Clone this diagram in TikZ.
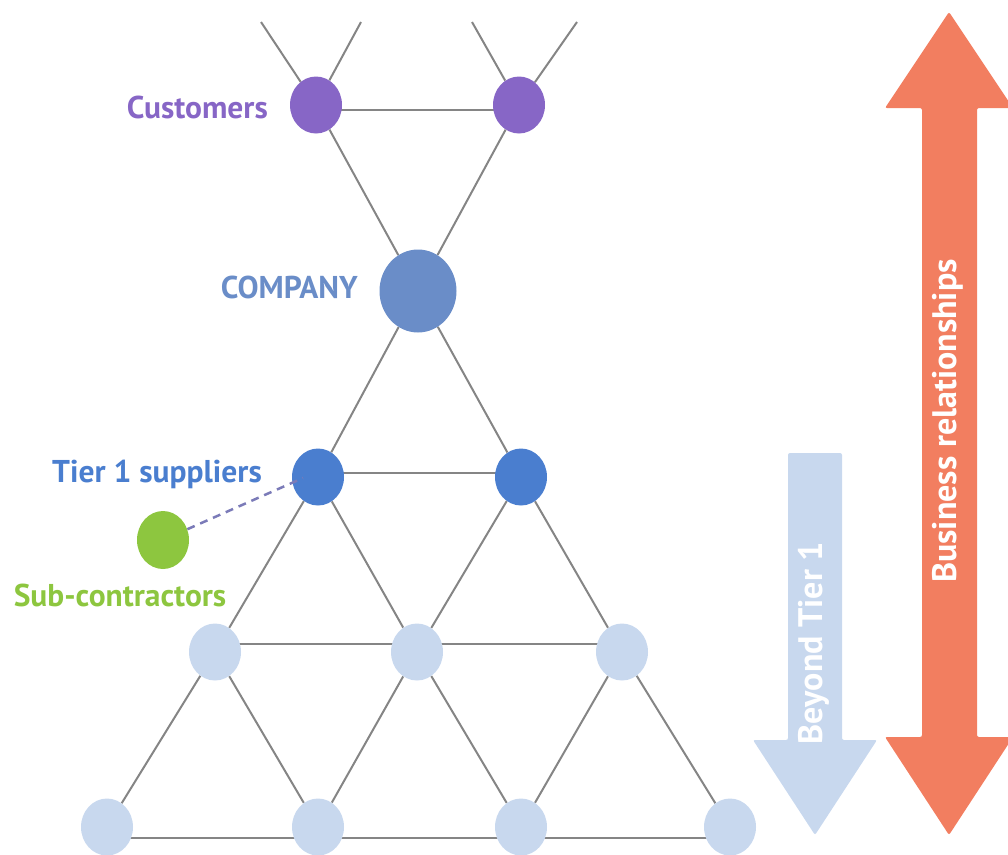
\documentclass[tikz,border=0pt]{standalone}
\usepackage{fontspec}
\setmainfont{PT Sans}
\usetikzlibrary{shapes.geometric,backgrounds}
\definecolor{custcol}{HTML}{8766C6}
\definecolor{compcol}{HTML}{6A8DC8}
\definecolor{tiercol}{HTML}{4A7ECF}
\definecolor{beyondcol}{HTML}{C8D8EE}
\definecolor{subcol}{HTML}{8DC63F}
\definecolor{bizcol}{HTML}{F27E60}
\definecolor{linkcol}{HTML}{858585}
\definecolor{dashcol}{HTML}{7B7BB8}
\tikzset{
  dot/.style={ellipse,inner sep=0pt,minimum width=52pt,minimum height=57pt},
  link/.style={linkcol,line width=2pt},
  lbl/.style={font=\bfseries\fontsize{31.5}{31.5}\selectfont,inner sep=0pt},
  arrowlbl/.style={font=\bfseries\fontsize{34}{34}\selectfont,inner sep=0pt,white,rotate=90},
}
\begin{document}
\begin{tikzpicture}[x=1pt,y=-1pt]
\useasboundingbox (0,0) rectangle (1008,854);

    \def\bizarrow{(949,12) -- (1013,108) -- (977,108) -- (977,737) -- (1013,737) -- (949,835) -- (885,737) -- (922,737) -- (922,108) -- (885,108) -- cycle}
    \def\beyondarrow{(788,453) -- (842,453) -- (842,740) -- (877,740) -- (815,835) -- (753,740) -- (788,740) -- cycle}

    \fill[bizcol,rounded corners=2pt] \bizarrow;
    \fill[beyondcol,rounded corners=2pt] \beyondarrow;
    \node[arrowlbl] (biz) at (948,421) {Business relationships};
    \node[arrowlbl] (beyond) at (814,643) {Beyond Tier 1};

    \node[dot,fill=custcol] (c1) at (316,105) {};
    \node[dot,fill=custcol] (c2) at (519,105) {};
    \node[dot,fill=compcol,minimum width=77pt,minimum height=83pt] (comp) at (418,291) {};
    \node[dot,fill=tiercol] (t1) at (318,477) {};
    \node[dot,fill=tiercol] (t2) at (521,477) {};
    \node[dot,fill=subcol,minimum height=58pt] (sub) at (163,540) {};
    \foreach \n/\x in {m1/215,m2/417,m3/622}
        \node[dot,fill=beyondcol] (\n) at (\x,652) {};
    \foreach \n/\x in {b1/107,b2/318,b3/521,b4/730}
        \node[dot,fill=beyondcol] (\n) at (\x,827) {};

    \coordinate (e1) at (261,22);
    \coordinate (e2) at (361,22);
    \coordinate (e3) at (472,22);
    \coordinate (e4) at (577,22);

    \begin{scope}[on background layer]
        \draw[link] (e1) -- (c1) -- (e2);
        \draw[link] (e3) -- (c2) -- (e4);
        \draw[link] (c1) -- (comp) -- (c2);
        \draw[link] (t1) -- (comp) -- (t2);
        \foreach \a/\b in {t1/m1,t1/m2,t2/m2,t2/m3,m1/b1,m1/b2,m2/b2,m2/b3,m3/b3,m3/b4}
            \draw[link] (\a) -- (\b);
        \draw[link] ([yshift=-5pt]c1.center) -- ([yshift=-5pt]c2.center);
        \draw[link] ([yshift=4pt]t1.center) -- ([yshift=4pt]t2.center);
        \draw[link,line width=2.5pt] ([yshift=8pt]m1.center) -- ([yshift=8pt]m3.center);
        \draw[link,line width=2.5pt] ([yshift=-11pt]b1.center) -- ([yshift=-11pt]b4.center);
    \end{scope}

    \draw[dashcol,line width=2.5pt,dash pattern=on 8pt off 6pt] (sub) -- ([xshift=-15pt,yshift=-1pt]t1.center);

    \node[lbl,custcol,anchor=east] (custlbl) at (268,107) {Customers};
    \node[lbl,compcol,anchor=east] (complbl) at (358,287) {COMPANY};
    \node[lbl,tiercol,anchor=east] (tierlbl) at (262,474) {Tier 1 suppliers};
    \node[lbl,subcol] (sublbl) at (120,595) {Sub-contractors};
\end{tikzpicture}
\end{document}
